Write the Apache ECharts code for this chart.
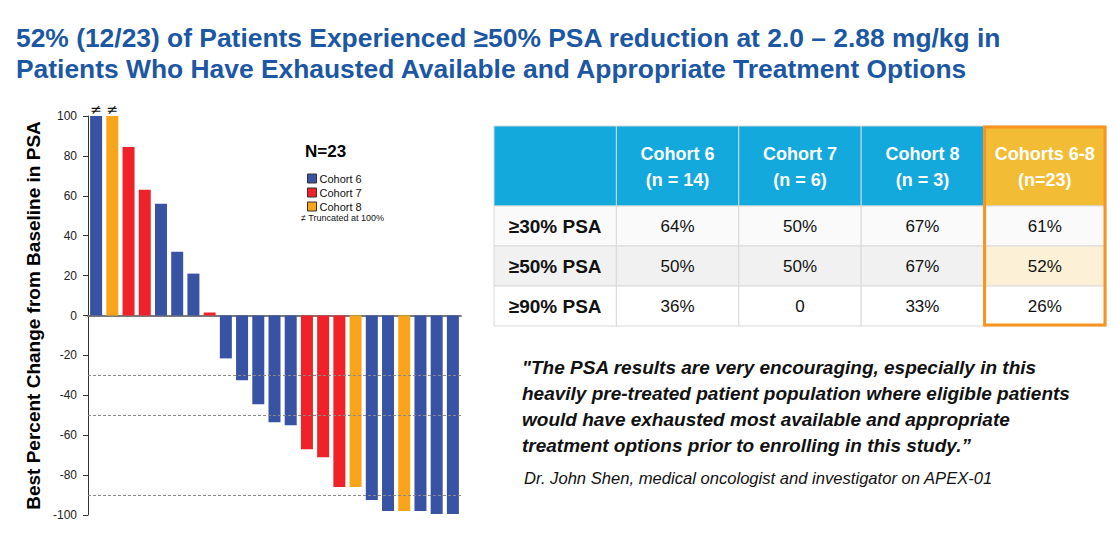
<!DOCTYPE html>
<html>
<head>
<meta charset="utf-8">
<script src="https://cdn.jsdelivr.net/npm/echarts@6/dist/echarts.min.js"></script>
<style>
html,body{margin:0;padding:0;background:#fff;}
#chart{width:1116px;height:545px;}
</style>
</head>
<body>
<div id="chart"></div>
<script>
// ---- Data ----
var patients = ['P1','P2','P3','P4','P5','P6','P7','P8','P9','P10','P11','P12','P13','P14','P15','P16','P17','P18','P19','P20','P21','P22','P23'];
var psaChange = [100, 100, 84.5, 63, 56, 32, 21, 1.5, -21.5, -32.5, -44.5, -53.5, -55, -67, -71, -86, -86, -92.5, -98, -98, -98, -99.5, -99.5];
var cohortOf = [6, 8, 7, 7, 6, 6, 6, 7, 6, 6, 6, 6, 6, 7, 7, 7, 8, 6, 6, 8, 6, 6, 6];
var truncated = [true, true, false, false, false, false, false, false, false, false, false, false, false, false, false, false, false, false, false, false, false, false, false];
var cohortNames = ['Cohort 6', 'Cohort 7', 'Cohort 8'];
var cohortIds = [6, 7, 8];
var cohortColors = ['#3853a4', '#ee2228', '#f9a51b'];
var thresholds = [-30, -50, -90];
var yTicks = {min: -100, max: 100, interval: 20};

var tableHeaders = ['Cohort 6\n(n = 14)', 'Cohort 7\n(n = 6)', 'Cohort 8\n(n = 3)', 'Cohorts 6-8\n(n=23)'];
var tableRowLabels = ['\u226530% PSA', '\u226550% PSA', '\u226590% PSA'];
var cohort6Pct = ['64%', '50%', '36%'];
var cohort7Pct = ['50%', '50%', '0'];
var cohort8Pct = ['67%', '67%', '33%'];
var allCohortsPct = ['61%', '52%', '26%'];

var titleText = '52% (12/23) of Patients Experienced \u226550% PSA reduction at 2.0 \u2013 2.88 mg/kg in\nPatients Who Have Exhausted Available and Appropriate Treatment Options';
var quoteText = '"The PSA results are very encouraging, especially in this\nheavily pre-treated patient population where eligible patients\nwould have exhausted most available and appropriate\ntreatment options prior to enrolling in this study.\u201d';
var attribution = 'Dr. John Shen, medical oncologist and investigator on APEX-01';

// ---- Build series ----
var FONT = '"Liberation Sans", Arial, sans-serif';
var barSeries = cohortIds.map(function (cid, k) {
  return {
    name: cohortNames[k],
    type: 'bar',
    stack: 'all',
    barWidth: 12,
    xAxisIndex: 0, yAxisIndex: 0,
    itemStyle: {color: cohortColors[k]},
    data: psaChange.map(function (v, i) { return cohortOf[i] === cid ? v : '-'; }),
    label: {
      show: true, position: 'top', distance: 0,
      fontFamily: 'DejaVu Sans', fontSize: 14, color: '#111',
      formatter: function (p) { return truncated[p.dataIndex] ? '\u2260' : ''; }
    },
    markLine: k === 0 ? {
      silent: true, symbol: 'none', label: {show: false},
      lineStyle: {type: [3, 2], color: '#8a8a8a', width: 1},
      data: thresholds.map(function (t) { return {yAxis: t}; })
    } : undefined,
    z: 3
  };
});

// table cells: [x0, y0, x1, y1, text, kind]
var tableCells = [];
tableCells.push([0, 0, 1, 2, '', 'head']);
tableHeaders.forEach(function (h, c) {
  tableCells.push([c + 1, 0, c + 2, 2, h, c === 3 ? 'headHi' : 'head']);
});
var pctCols = [cohort6Pct, cohort7Pct, cohort8Pct, allCohortsPct];
tableRowLabels.forEach(function (lab, r) {
  var bg = r === 1 ? 'row2' : (r === 0 ? 'row1' : 'row3');
  tableCells.push([0, r + 2, 1, r + 3, lab, bg + 'Lab']);
  pctCols.forEach(function (col, c) {
    var kind = bg;
    if (c === 3 && r === 1) kind = 'hiCell';
    tableCells.push([c + 1, r + 2, c + 2, r + 3, col[r], kind]);
  });
});
tableCells.push([4, 0, 5, 5, '', 'frame']);

var fills = {head: '#13a9dd', headHi: '#f2bd34', row1: '#fafafa', row2: '#f1f1f1', row3: '#ffffff', hiCell: '#fcf1d6'};

function renderCell(params, api) {
  var x0 = api.value(0), y0 = api.value(1), x1 = api.value(2), y1 = api.value(3);
  var kind = tableCells[params.dataIndex][5];
  var text = tableCells[params.dataIndex][4];
  var p0 = api.coord([x0, y0]);
  var p1 = api.coord([x1, y1]);
  var w = p1[0] - p0[0], h = p1[1] - p0[1];
  if (kind === 'frame') {
    return {type: 'rect', shape: {x: p0[0] + 1, y: p0[1] + 1, width: w - 2, height: h - 2},
      style: {fill: 'none', stroke: '#f7931e', lineWidth: 3}, z2: 10};
  }
  var base = kind.replace('Lab', '');
  var isHead = kind === 'head' || kind === 'headHi';
  var isLab = kind.indexOf('Lab') >= 0;
  var size = isHead ? '18px' : (isLab ? '19px' : '17px');
  return {
    type: 'group',
    children: [
      {type: 'rect', shape: {x: p0[0], y: p0[1], width: w, height: h},
        style: {fill: fills[base], stroke: isHead ? '#cfd8dc' : '#d9d9d9', lineWidth: 1}},
      {type: 'text', x: p0[0] + w / 2, y: p0[1] + h / 2 + (isHead ? 1 : 0),
        style: {text: text, align: 'center', verticalAlign: 'middle',
          fill: isHead ? '#ffffff' : '#111111',
          font: (isHead || isLab ? 'bold ' : '') + size + ' ' + FONT,
          lineHeight: 26}}
    ]
  };
}

var option = {
  animation: false,
  backgroundColor: '#ffffff',
  title: {
    text: titleText, left: 11, top: 17,
    textStyle: {fontFamily: FONT, fontSize: 26.4, fontWeight: 'bold', color: '#1c57a3', lineHeight: 31}
  },
  legend: {
    data: cohortNames, orient: 'vertical', left: 302, top: 168,
    itemWidth: 9, itemHeight: 9, itemGap: 3,
    icon: 'rect',
    itemStyle: {borderColor: '#333', borderWidth: 1},
    textStyle: {fontFamily: FONT, fontSize: 11, color: '#111', padding: [0, 0, 0, -2]},
    selectedMode: false
  },
  grid: [
    {left: 88, top: 116, width: 373, height: 399, containLabel: false},
    {left: 494, top: 126, width: 612, height: 200}
  ],
  xAxis: [
    {type: 'category', gridIndex: 0, data: patients,
      axisLine: {onZero: true, lineStyle: {color: '#7a7a7a', width: 2}},
      axisTick: {show: false}, axisLabel: {show: false}, splitLine: {show: false}},
    {type: 'value', gridIndex: 1, min: 0, max: 5, show: false}
  ],
  yAxis: [
    {type: 'value', gridIndex: 0, min: yTicks.min, max: yTicks.max, interval: yTicks.interval,
      name: 'Best Percent Change from Baseline in PSA', nameLocation: 'middle', nameRotate: 90, nameGap: 45,
      nameTextStyle: {fontFamily: FONT, fontSize: 19, fontWeight: 'bold', color: '#000'},
      axisLine: {show: true, onZero: false, lineStyle: {color: '#333', width: 1}},
      axisTick: {show: true, inside: false, length: 5, lineStyle: {color: '#333'}},
      axisLabel: {fontFamily: FONT, fontSize: 12, color: '#222', margin: 11},
      splitLine: {show: false}},
    {type: 'value', gridIndex: 1, min: 0, max: 5, inverse: true, show: false}
  ],
  graphic: [
    {type: 'text', left: 305, top: 143, style: {text: 'N=23', font: 'bold 17px ' + FONT, fill: '#000'}},
    {type: 'text', left: 301, top: 213, style: {text: '\u2260 Truncated at 100%', font: '9px ' + FONT, fill: '#111'}},
    {type: 'text', left: 522, top: 354, style: {text: quoteText, font: 'italic bold 19px ' + FONT, fill: '#111', lineHeight: 26}},
    {type: 'text', left: 524, top: 470, style: {text: attribution, font: 'italic 16.6px ' + FONT, fill: '#111'}}
  ],
  series: barSeries.concat([{
    type: 'custom', xAxisIndex: 1, yAxisIndex: 1, silent: true, clip: false,
    renderItem: renderCell,
    encode: {x: [0, 2], y: [1, 3]},
    data: tableCells.map(function (c) { return [c[0], c[1], c[2], c[3]]; }),
    z: 5
  }]),
  tooltip: {show: false}
};

var chart = echarts.init(document.getElementById('chart'), null, {renderer: 'svg'});
chart.setOption(option);
</script>
</body>
</html>
